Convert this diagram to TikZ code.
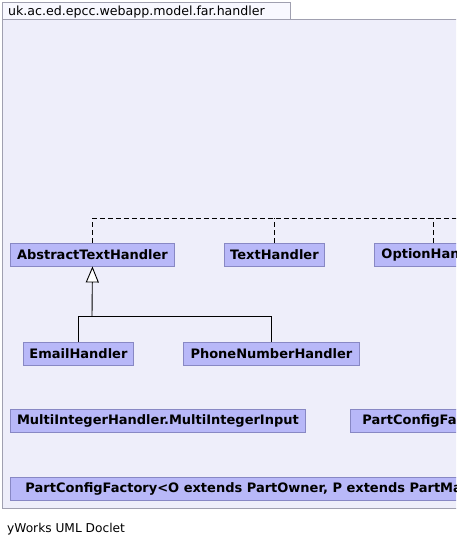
\documentclass[tikz,border=0pt]{standalone}
\usepackage{fontspec}
\setmainfont{DejaVu Sans}
\usetikzlibrary{arrows.meta}
\definecolor{framebg}{RGB}{238,238,250}
\definecolor{tabbg}{RGB}{248,248,255}
\definecolor{frameline}{RGB}{160,160,176}
\definecolor{nodefill}{RGB}{184,184,248}
\definecolor{nodeline}{RGB}{136,136,196}
\tikzset{
  cls/.style={draw=nodeline, fill=nodefill, line width=0.9pt, font=\fontsize{13}{15}\selectfont\bfseries,
    minimum height=23pt, inner ysep=0pt, anchor=west},
  dep/.style={draw=black, line width=0.9pt, dash pattern=on 5pt off 3pt},
  gen/.style={draw=black, line width=0.9pt},
  frm/.style={draw=frameline, line width=0.9pt}
}
\begin{document}
\begin{tikzpicture}[x=1pt,y=-1pt]
\useasboundingbox (0,0) rectangle (456,546);
\clip (0,0) rectangle (456,546);
\fill[white] (0,0) rectangle (456,546);
% package tab and frame
\draw[frm, fill=tabbg] (2.5,2.5) rectangle (290,19);
\node[anchor=base west, inner sep=0pt, font=\fontsize{12.6}{14}\selectfont] (title) at (8,15) {uk.ac.ed.epcc.webapp.model.far.handler};
\draw[frm, fill=framebg] (2.5,19) rectangle (470,508.5);
% classes
\node[cls, minimum width=164pt] (ath) at (10,254.5) {AbstractTextHandler};
\node[cls, minimum width=100pt] (th) at (224,254.5) {TextHandler};
\node[cls, inner xsep=7pt] (oh) at (374,254.5) {OptionHandler};
\node[cls, minimum width=110pt] (email) at (23,353.5) {EmailHandler};
\node[cls, minimum width=176pt] (phone) at (183,353.5) {PhoneNumberHandler};
\node[cls, minimum width=295pt] (multi) at (10,420.8) {MultiIntegerHandler.MultiIntegerInput};
\node[cls, inner xsep=12pt] (pcfa) at (350,420.8) {PartConfigFactory};
\node[cls, inner xsep=15pt] (pcf) at (10,488.8) {PartConfigFactory<O extends PartOwner, P extends PartManager>};
% realization (dashed)
\coordinate (dr) at (470,218);
\draw[dep] (ath.north) |- (dr);
\draw[dep] (th.north) -- (th.north |- dr);
\draw[dep] ([xshift=59pt]oh.north west) -- ++(0,-25);
% generalization
\coordinate (j) at (92,316);
\draw[gen] (email.north) |- (j);
\draw[gen] (phone.north) |- (j);
\draw[gen, -{Triangle[fill=white, length=16pt, width=13pt, line width=0.9pt]}] (j) -- (ath.south);
% footer
\node[anchor=base west, inner sep=0pt, font=\fontsize{12.2}{14}\selectfont] (foot) at (7,532.5) {yWorks UML Doclet};
\end{tikzpicture}
\end{document}
